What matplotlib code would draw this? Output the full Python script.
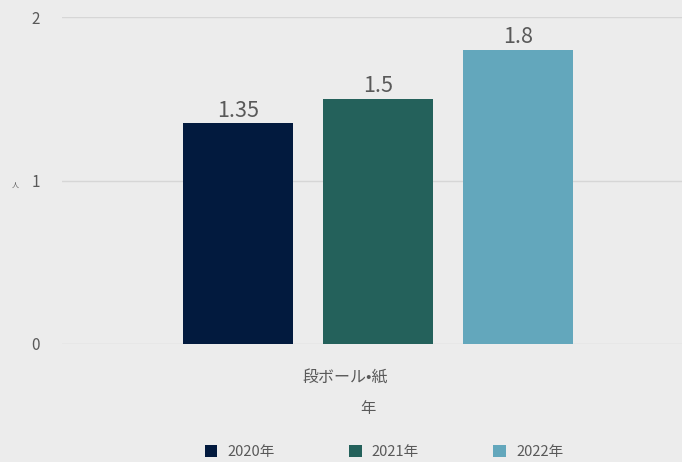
import matplotlib.pyplot as plt
from matplotlib.patches import Patch

plt.rcParams['font.family'] = ['Noto Sans CJK JP', 'DejaVu Sans']

years = ['2020年', '2021年', '2022年']
values = [1.35, 1.5, 1.8]
colors = ['#021a3e', '#24615b', '#63a7bc']
category = '段ボール•紙'
yticks = [0, 1, 2]

bg = '#ececec'
txt = '#595959'

fig = plt.figure(figsize=(6.82, 4.62), dpi=100, facecolor=bg)
ax = fig.add_axes([62 / 682, 1 - 344 / 462, 620 / 682, (344 - 17) / 462], facecolor=bg)

offsets = [-1, 0, 1]
for off, v, c in zip(offsets, values, colors):
    ax.bar(off, v, width=110 / 140, color=c, zorder=3)
    ax.text(off, v + 0.008, f'{v:g}', ha='center', va='bottom', fontsize=15.5, color=txt)

ax.set_xlim(-2.26, 2.17)
ax.set_ylim(0, 2)
ax.set_yticks(yticks)
ax.set_yticklabels([str(t) for t in yticks], fontsize=11, color=txt)
ax.set_xticks([])
ax.grid(axis='y', color='#d6d6d6', linewidth=1, zorder=0)
for s in ax.spines.values():
    s.set_visible(False)
ax.tick_params(axis='y', length=0, pad=16)

fig.text(345 / 682, 1 - 378 / 462, category, ha='center', va='center', fontsize=11.5, color=txt)
fig.text(368 / 682, 1 - 408 / 462, '年', ha='center', va='center', fontsize=11, color=txt)
fig.text(15 / 682, 1 - 186 / 462, '人', ha='center', va='center', fontsize=5, color=txt)

handles = [Patch(facecolor=c, label=y) for y, c in zip(years, colors)]
fig.legend(handles=handles, loc='center', bbox_to_anchor=(384 / 682, 1 - 452 / 462), ncol=3,
           frameon=False, fontsize=10.5, labelcolor=txt, columnspacing=5.1,
           handlelength=0.85, handleheight=0.85, handletextpad=0.7)

fig.savefig('out.png', dpi=100, facecolor=bg)
